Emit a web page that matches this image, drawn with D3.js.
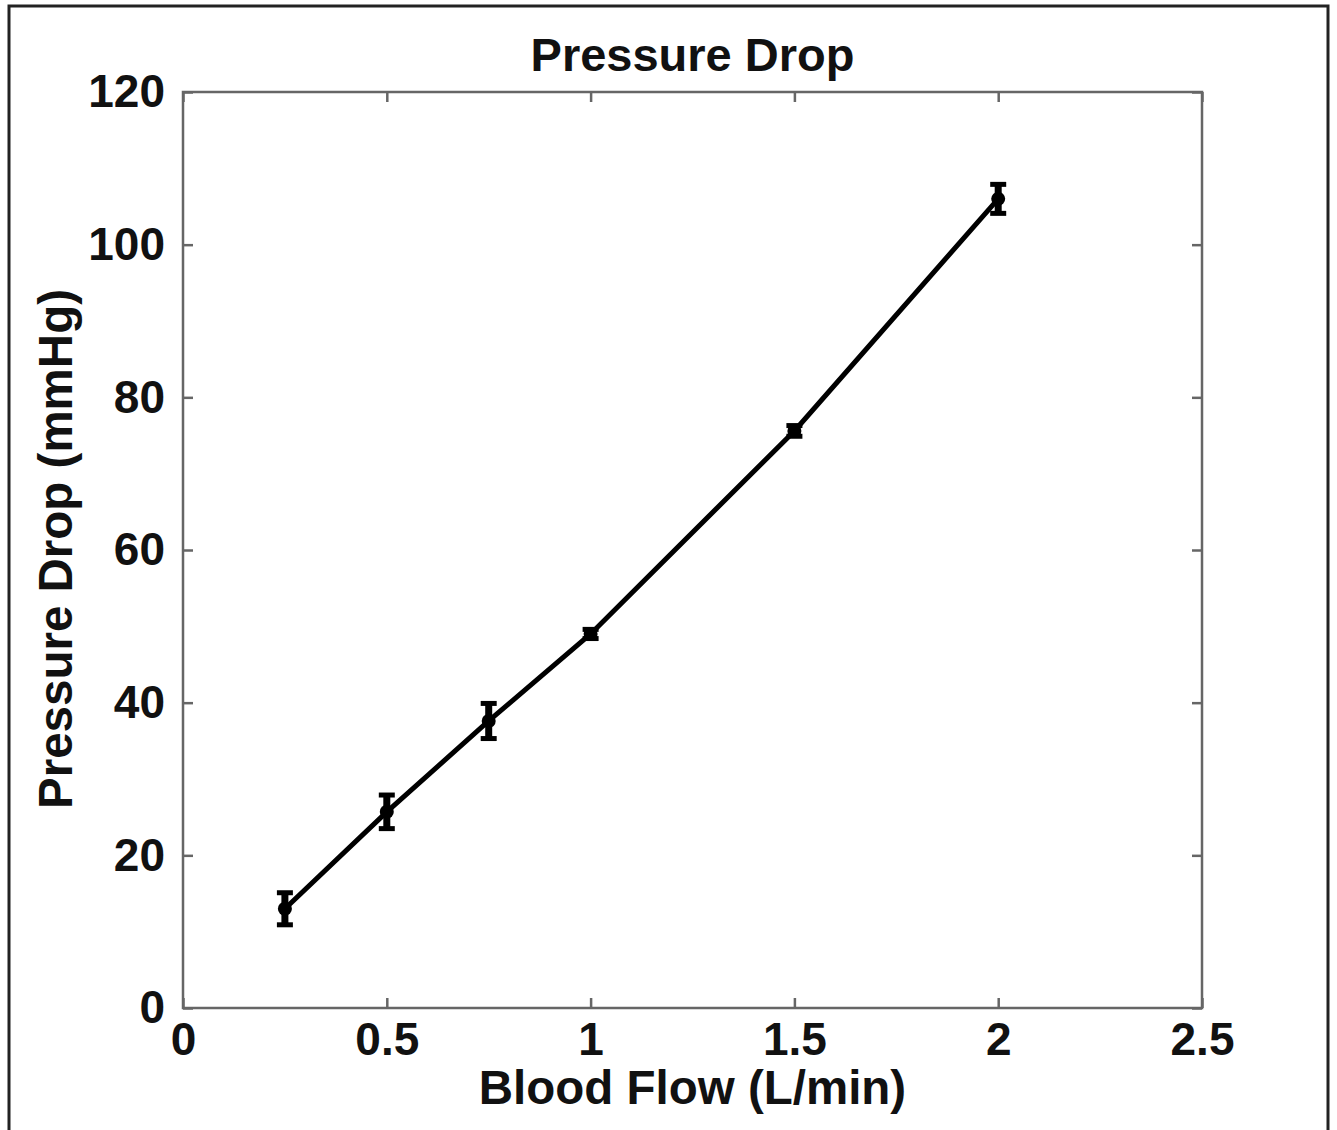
<html>
<head>
<script src="https://d3js.org/d3.v7.min.js"></script>
<style>
  body { margin: 0; background: #fff; }
  text { font-family: "Liberation Sans", Arial, sans-serif; font-weight: bold; fill: #111; }
</style>
</head>
<body>
<svg id="chart" width="1337" height="1130"></svg>
<script>
// data
var flow = [0.25, 0.5, 0.75, 1, 1.5, 2];
var drop = [13, 25.7, 37.6, 49, 75.6, 106];
var err = [2.1, 2.2, 2.3, 0.6, 0.7, 1.9];
var xTicks = [0, 0.5, 1, 1.5, 2, 2.5];
var yTicks = [0, 20, 40, 60, 80, 100, 120];

var svg = d3.select("#chart");
var plotLeft = 183, plotRight = 1202, plotTop = 92, plotBottom = 1008;

var x = d3.scaleLinear().domain([0, 2.5]).range([plotLeft, plotRight]);
var y = d3.scaleLinear().domain([0, 120]).range([plotBottom, plotTop]);

// outer frame
svg.append("rect")
  .attr("x", 9).attr("y", 6)
  .attr("width", 1319).attr("height", 1140)
  .attr("fill", "none").attr("stroke", "#222").attr("stroke-width", 3);

// axis box
var axisColor = "#666";
svg.append("rect")
  .attr("x", plotLeft).attr("y", plotTop)
  .attr("width", plotRight - plotLeft).attr("height", plotBottom - plotTop)
  .attr("fill", "none").attr("stroke", axisColor).attr("stroke-width", 2.5);

function styleAxis(g) {
  g.select(".domain").remove();
  g.selectAll("line").attr("stroke", axisColor).attr("stroke-width", 2.5);
  g.selectAll("text").attr("font-size", 46).attr("fill", "#111")
    .style("font-family", "'Liberation Sans', Arial, sans-serif").style("font-weight", "bold");
}

svg.append("g")
  .attr("transform", "translate(0," + plotBottom + ")")
  .call(d3.axisBottom(x).tickValues(xTicks).tickSize(-10).tickPadding(14).tickFormat(d3.format("~g")))
  .call(styleAxis);
svg.append("g")
  .attr("transform", "translate(0," + plotTop + ")")
  .call(d3.axisTop(x).tickValues(xTicks).tickSize(-10).tickFormat(""))
  .call(styleAxis);
svg.append("g")
  .attr("transform", "translate(" + plotLeft + ",0)")
  .call(d3.axisLeft(y).tickValues(yTicks).tickSize(-10).tickPadding(18))
  .call(styleAxis);
svg.append("g")
  .attr("transform", "translate(" + plotRight + ",0)")
  .call(d3.axisRight(y).tickValues(yTicks).tickSize(-10).tickFormat(""))
  .call(styleAxis);

var pts = flow.map(function(f, i) { return {x: f, y: drop[i], e: err[i]}; });

// line
svg.append("path")
  .datum(pts)
  .attr("fill", "none").attr("stroke", "#000").attr("stroke-width", 5)
  .attr("d", d3.line().x(function(d) { return x(d.x); }).y(function(d) { return y(d.y); }));

// error bars
var eb = svg.append("g").attr("stroke", "#000");
pts.forEach(function(d) {
  var cx = x(d.x), y1 = y(d.y + d.e), y2 = y(d.y - d.e);
  eb.append("line").attr("x1", cx).attr("x2", cx).attr("y1", y1).attr("y2", y2).attr("stroke-width", 7);
  eb.append("line").attr("x1", cx - 8).attr("x2", cx + 8).attr("y1", y1).attr("y2", y1).attr("stroke-width", 5);
  eb.append("line").attr("x1", cx - 8).attr("x2", cx + 8).attr("y1", y2).attr("y2", y2).attr("stroke-width", 5);
});

svg.append("g").selectAll("circle")
  .data(pts).enter().append("circle")
  .attr("cx", function(d) { return x(d.x); })
  .attr("cy", function(d) { return y(d.y); })
  .attr("r", 7).attr("fill", "#000");

// title and labels
svg.append("text")
  .attr("x", (plotLeft + plotRight) / 2).attr("y", 71)
  .attr("text-anchor", "middle").attr("font-size", 47)
  .text("Pressure Drop");
svg.append("text")
  .attr("x", (plotLeft + plotRight) / 2).attr("y", 1104)
  .attr("text-anchor", "middle").attr("font-size", 47.5)
  .text("Blood Flow (L/min)");
svg.append("text")
  .attr("transform", "translate(72," + 549 + ") rotate(-90)")
  .attr("text-anchor", "middle").attr("font-size", 47.5)
  .text("Pressure Drop (mmHg)");
</script>
</body>
</html>
